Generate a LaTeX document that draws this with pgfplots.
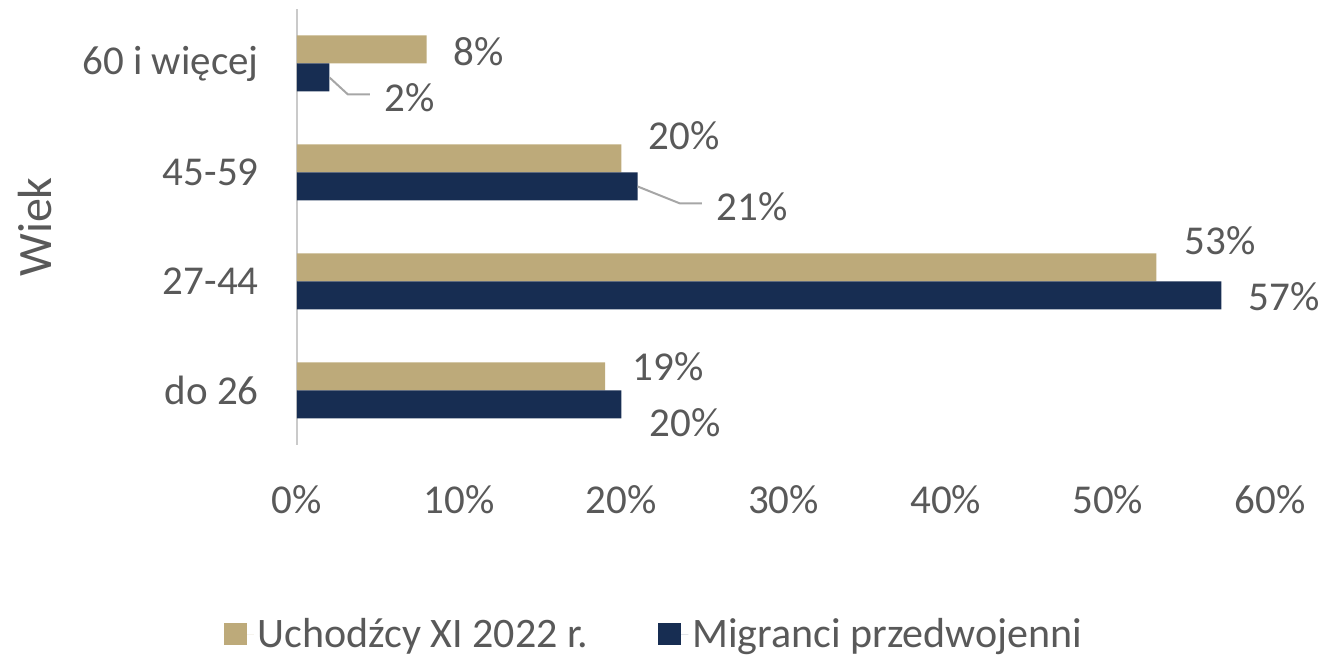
\documentclass[border=0pt]{standalone}
\usepackage{pgfplots}
\pgfplotsset{compat=1.18}
\usepackage{fontspec}
\setmainfont{Carlito}
\definecolor{gold}{HTML}{BDAA7A}
\definecolor{navy}{HTML}{172D52}
\definecolor{txt}{HTML}{595959}
\definecolor{lead}{HTML}{A6A6A6}
\pgfplotsset{sqlegend/.style={legend image code/.code={\path (0pt,0pt) -- (15pt,0pt); \fill[##1] (0pt,-5.5pt) rectangle (11.5pt,5.5pt);}}}
\begin{document}
\begin{tikzpicture}
\path[use as bounding box] (0,0) rectangle (664pt,328.5pt);
\begin{axis}[
 at={(148.5pt,106pt)}, anchor=south west,
 scale only axis, width=486.5pt, height=218pt,
 xmin=0,xmax=60,ymin=-0.5,ymax=3.5,
 clip=false,
 axis lines*=left,
 x axis line style={draw=none},
 y axis line style={draw=lead!60, line width=1pt},
 major tick length=0pt,
 xtick={0,10,...,60}, xticklabels={0\%,10\%,20\%,30\%,40\%,50\%,60\%},
 ytick={0,1,2,3}, yticklabels={do 26,27-44,45-59,60 i więcej},
 tick label style={font=\fontsize{20.5}{24}\selectfont, text=txt},
 xticklabel style={anchor=center, inner sep=0pt, yshift=-27.5pt},
 yticklabel style={anchor=east, inner sep=0pt, xshift=-19pt},
 ylabel={Wiek},
 ylabel style={at={(axis description cs:-0.2693,0.5)}, anchor=center, font=\fontsize{24}{28}\selectfont, text=txt},
 legend style={at={(axis description cs:0.368,-0.434)}, anchor=center, draw=none, legend columns=2, font=\fontsize{21}{25}\selectfont, text=txt, /tikz/every even column/.append style={column sep=33pt}},
]
\addplot[xbar, sqlegend, bar width=14pt, bar shift=7pt, fill=gold, draw=none] coordinates {(19,0) (53,1) (20,2) (8,3)};
\addplot[xbar, sqlegend, bar width=14pt, bar shift=-7pt, fill=navy, draw=none] coordinates {(20,0) (57,1) (21,2) (2,3)};
\legend{Uchodźcy XI 2022 r., Migranci przedwojenni}
\addplot[forget plot, draw=none, mark=none, point meta=\thisrow{v},
  nodes near coords={\pgfmathprintnumber[assume math mode=true]{\pgfplotspointmeta}\%},
  every node near coord/.append style={anchor=center, inner sep=0pt, font=\fontsize{20.5}{24}\selectfont, text=txt}]
  table[row sep=\\] {
  x y v\\
  11.22 3.11 8\\
  6.97 2.69 2\\
  23.86 2.34 20\\
  28.06 1.69 21\\
  56.92 1.376 53\\
  60.86 0.862 57\\
  22.88 0.220 19\\
  23.93 -0.294 20\\
  };
\draw[lead, line width=1pt] (axis cs:2,2.872) -- (axis cs:3.14,2.716) -- (axis cs:4.50,2.716);
\draw[lead, line width=1pt] (axis cs:21,1.872) -- (axis cs:23.62,1.716) -- (axis cs:24.97,1.716);
\end{axis}
\end{tikzpicture}
\end{document}
